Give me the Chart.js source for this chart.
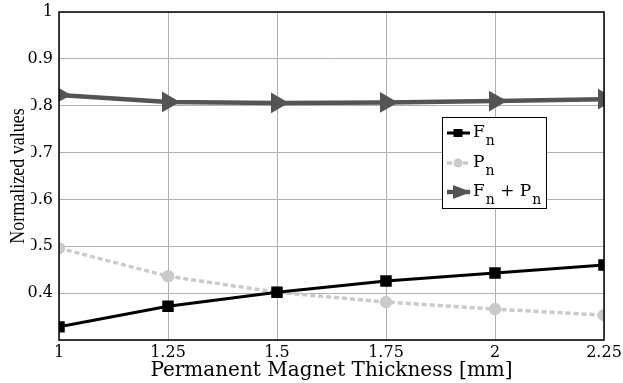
<!DOCTYPE html>
<html>
<head>
<meta charset="utf-8">
<script src="https://cdn.jsdelivr.net/npm/chart.js@4/dist/chart.umd.min.js"></script>
<style>
  html, body { margin: 0; padding: 0; background: #fff; }
  #wrap { width: 623px; height: 383px; position: relative; }
  .probe { position: absolute; left: -9999px; top: 0; }
</style>
</head>
<body>
<div class="probe" style="font-family:'Liberation Serif'">Normalized values 0.123456789</div>
<div class="probe" style="font-family:'DejaVu Serif'">Permanent Magnet 0.123456789</div>
<div id="wrap"><canvas id="c" width="623" height="383"></canvas></div>
<script>
// Permanent magnet thickness [mm]
const thickness = [1, 1.25, 1.5, 1.75, 2, 2.25];
// Normalized force, normalized power and their sum
const forceN = [0.328, 0.372, 0.402, 0.426, 0.443, 0.460];
const powerN = [0.496, 0.436, 0.402, 0.381, 0.366, 0.353];
const sumFP  = [0.823, 0.808, 0.806, 0.807, 0.810, 0.814];
const yTicks = [0.4, 0.5, 0.6, 0.7, 0.8, 0.9, 1];
const xTicks = thickness;

const wideSerif = '"DejaVu Serif", "Liberation Serif", serif';
const tallSerif = '"Liberation Serif", "DejaVu Serif", serif';

const toPts = ys => thickness.map((x, i) => ({ x, y: ys[i] }));

// Frame, y-axis title and legend with subscripts
const decorations = {
  id: 'decorations',
  afterDatasetsDraw(chart) {
    const { ctx, chartArea: a } = chart;
    ctx.save();
    ctx.strokeStyle = '#000';
    ctx.lineWidth = 1.5;
    ctx.strokeRect(a.left, a.top, a.right - a.left, a.bottom - a.top);
    ctx.restore();
  },
  afterDraw(chart) {
    const { ctx } = chart;
    ctx.save();
    // Y axis title on a white band
    ctx.fillStyle = '#fff';
    ctx.fillRect(0, 97, 31, 157);
    ctx.translate(19, 176);
    ctx.rotate(-Math.PI / 2);
    ctx.scale(1, 1.15);
    ctx.font = '18px ' + tallSerif;
    ctx.fillStyle = '#000';
    ctx.textAlign = 'center';
    ctx.textBaseline = 'middle';
    ctx.fillText('Normalized values', 0, 0);
    ctx.restore();

    // Legend
    const lx = 442, ly = 117, lw = 104, lh = 91;
    ctx.save();
    ctx.fillStyle = '#fff';
    ctx.fillRect(lx, ly, lw, lh);
    ctx.strokeStyle = '#000';
    ctx.lineWidth = 1;
    ctx.strokeRect(lx + 0.5, ly + 0.5, lw, lh);
    const rowY = [ly + 16, ly + 46, ly + 75];
    chart.data.datasets.forEach((ds, i) => {
      const y = rowY[i];
      ctx.strokeStyle = ds.borderColor;
      ctx.lineWidth = ds.borderWidth;
      ctx.setLineDash(ds.borderDash || []);
      ctx.beginPath();
      ctx.moveTo(lx + 5, y);
      ctx.lineTo(lx + 28, y);
      ctx.stroke();
      ctx.setLineDash([]);
      ctx.fillStyle = ds.pointBackgroundColor;
      const cx = lx + 16;
      if (i === 0) {
        ctx.fillRect(cx - 4.5, y - 4, 9, 8);
      } else if (i === 1) {
        ctx.beginPath(); ctx.arc(cx, y, 4.5, 0, Math.PI * 2); ctx.fill();
      } else {
        ctx.beginPath();
        ctx.moveTo(cx - 5, y - 7); ctx.lineTo(cx + 13, y); ctx.lineTo(cx - 5, y + 7);
        ctx.closePath(); ctx.fill();
      }
      // Label with subscripts
      ctx.fillStyle = '#000';
      ctx.textBaseline = 'alphabetic';
      ctx.textAlign = 'left';
      let x = lx + 31;
      const base = y + 4;
      ds.labelParts.forEach(p => {
        if (p.sub) {
          ctx.font = '14px ' + wideSerif;
          ctx.fillText(p.t, x + 1, base + 8);
          x += ctx.measureText(p.t).width + 1;
        } else {
          ctx.font = '17px ' + wideSerif;
          ctx.fillText(p.t, x, base);
          x += ctx.measureText(p.t).width;
        }
      });
    });
    ctx.restore();
  }
};

function draw() {
  new Chart(document.getElementById('c'), {
    type: 'line',
    data: {
      datasets: [
        {
          label: 'Fn',
          labelParts: [{ t: 'F' }, { t: 'n', sub: true }],
          data: toPts(forceN),
          borderColor: '#000',
          backgroundColor: '#000',
          pointBackgroundColor: '#000',
          pointBorderColor: '#000',
          borderWidth: 3,
          pointStyle: 'rect',
          pointRadius: 6,
          tension: 0
        },
        {
          label: 'Pn',
          labelParts: [{ t: 'P' }, { t: 'n', sub: true }],
          data: toPts(powerN),
          borderColor: '#cacaca',
          backgroundColor: '#cacaca',
          pointBackgroundColor: '#cacaca',
          pointBorderColor: '#cacaca',
          borderWidth: 3.5,
          borderDash: [5, 3],
          pointStyle: 'circle',
          pointRadius: 4.5,
          tension: 0
        },
        {
          label: 'Fn + Pn',
          labelParts: [{ t: 'F' }, { t: 'n', sub: true }, { t: ' + P' }, { t: 'n', sub: true }],
          data: toPts(sumFP),
          borderColor: '#545454',
          backgroundColor: '#545454',
          pointBackgroundColor: '#545454',
          pointBorderColor: '#545454',
          borderWidth: 4.5,
          pointStyle: 'triangle',
          pointRotation: 90,
          pointRadius: 7.5,
          tension: 0
        }
      ]
    },
    options: {
      responsive: false,
      animation: false,
      layout: { padding: { top: 12, right: 19, left: 0, bottom: 0 } },
      plugins: { legend: { display: false }, tooltip: { enabled: false } },
      scales: {
        x: {
          type: 'linear',
          min: 1, max: 2.25,
          afterBuildTicks: s => { s.ticks = xTicks.map(v => ({ value: v })); },
          afterFit: s => { s.height = 43; s.paddingLeft = 0; s.paddingRight = 0; },
          grid: { color: '#b0b0b0', lineWidth: 1, drawTicks: false },
          border: { display: false },
          title: {
            display: true,
            text: 'Permanent Magnet Thickness [mm]',
            color: '#000',
            font: { family: wideSerif, size: 20 },
            padding: { top: 0, bottom: 0 }
          },
          ticks: {
            color: '#000',
            font: { family: wideSerif, size: 16 },
            padding: 3,
            maxRotation: 0,
            autoSkip: false,
            callback: v => String(v)
          }
        },
        y: {
          min: 0.3, max: 1,
          afterBuildTicks: s => { s.ticks = [0.3].concat(yTicks).map(v => ({ value: v })); },
          afterFit: s => { s.width = 59; s.paddingTop = 0; s.paddingBottom = 0; },
          grid: { color: '#b0b0b0', lineWidth: 1, drawTicks: false },
          border: { display: false },
          ticks: {
            color: '#000',
            font: { family: wideSerif, size: 16 },
            padding: 6,
            callback: v => (Math.abs(v - 0.3) < 1e-6 ? '' : String(Math.round(v * 10) / 10))
          }
        }
      }
    },
    plugins: [decorations]
  });
}

Promise.all([
  document.fonts.load('17px "Liberation Serif"'),
  document.fonts.load('17px "DejaVu Serif"')
]).catch(() => {}).then(draw);
</script>
</body>
</html>
